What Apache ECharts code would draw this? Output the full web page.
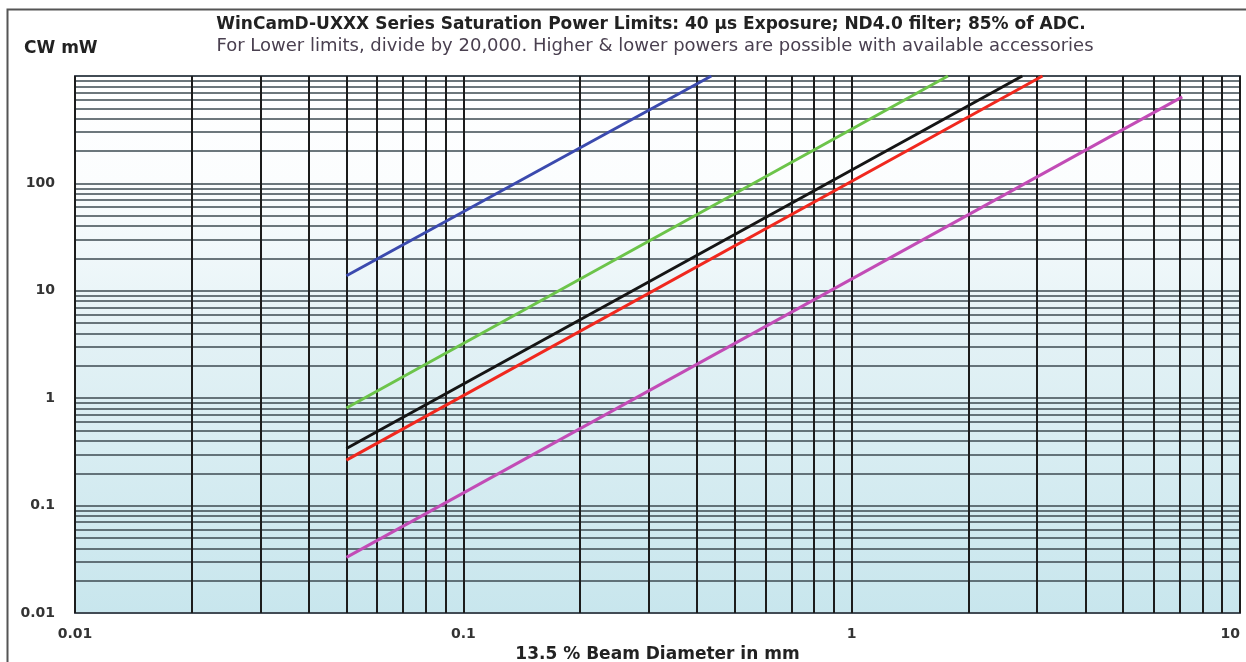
<!DOCTYPE html>
<html>
<head>
<meta charset="utf-8">
<script src="https://cdn.jsdelivr.net/npm/echarts@6/dist/echarts.min.js"></script>
<style>
html,body{margin:0;padding:0;background:#fff;}
#c{width:1246px;height:662px;}
</style>
</head>
<body>
<div id="c"></div>
<script>
// Data (beam diameter mm, CW mW)
const seriesNames = ['Blue', 'Green', 'Black', 'Red', 'Magenta'];
const blueLine = [[0.05, 13.8], [0.435, 1000]];
const greenLine = [[0.05, 0.81], [1.77, 1000]];
const blackLine = [[0.05, 0.34], [2.75, 1000]];
const redLine = [[0.05, 0.265], [3.1, 1000]];
const magentaLine = [[0.05, 0.033], [7.1, 640]];
const seriesColors = ['#3b4aae', '#6cc44a', '#151515', '#f0281e', '#c24cb6'];

// Axis ticks / grid
const xDecades = [0.01, 0.1, 1];
const yDecades = [0.01, 0.1, 1, 10, 100];
const multipliers = [1, 2, 3, 4, 5, 6, 7, 8, 9];
const xLabels = ['0.01', '0.1', '1', '10'];
const yLabels = ['0.01', '0.1', '1', '10', '100'];

const xGrid = [];
xDecades.forEach(d => multipliers.forEach(m => xGrid.push(+(d * m).toPrecision(3))));
xGrid.push(10);
const yGrid = [];
yDecades.forEach(d => multipliers.forEach(m => yGrid.push(+(d * m).toPrecision(3))));
yGrid.push(1000);

const FONT = 'DejaVu Sans, Verdana, sans-serif';
const chart = echarts.init(document.getElementById('c'), null, {renderer: 'canvas'});
const lineData = [blueLine, greenLine, blackLine, redLine, magentaLine];

const option = {
  animation: false,
  title: [
    {
      text: 'WinCamD-UXXX Series Saturation Power Limits: 40 \u00b5s Exposure; ND4.0 filter; 85% of ADC.',
      left: 646, top: 11, textAlign: 'center',
      textStyle: {fontFamily: FONT, fontSize: 17, fontWeight: 'bold', color: '#222'}
    },
    {
      text: 'For Lower limits, divide by 20,000. Higher & lower powers are possible with available accessories',
      left: 650, top: 32, textAlign: 'center',
      textStyle: {fontFamily: FONT, fontSize: 18, fontWeight: 'normal', color: '#4a4050'}
    },
    {
      text: 'CW mW', left: 19, top: 35,
      textStyle: {fontFamily: FONT, fontSize: 17, fontWeight: 'bold', color: '#222'}
    }
  ],
  graphic: [{
    type: 'rect', left: 5, top: 7, silent: true,
    shape: {x: 0, y: 0, width: 1260, height: 680},
    style: {fill: 'none', stroke: '#555', lineWidth: 2}
  }],
  grid: {
    left: 75, right: 6, top: 76, bottom: 49,
    outerBoundsMode: 'none',
    containLabel: false,
    show: true,
    borderColor: '#556', borderWidth: 2,
    backgroundColor: new echarts.graphic.LinearGradient(0, 0, 0, 1, [
      {offset: 0, color: '#ffffff'},
      {offset: 0.2, color: '#fbfdfe'},
      {offset: 0.5, color: '#e2f1f5'},
      {offset: 1, color: '#c8e6ed'}
    ])
  },
  xAxis: {
    type: 'log', logBase: 10, min: 0.01, max: 10,
    name: '13.5 % Beam Diameter in mm',
    nameLocation: 'middle', nameGap: 30,
    nameTextStyle: {fontFamily: FONT, fontSize: 17, fontWeight: 'bold', color: '#222'},
    axisLine: {show: false}, axisTick: {show: false}, splitLine: {show: false},
    axisLabel: {
      margin: 14, alignMaxLabel: 'right',
      fontFamily: FONT, fontSize: 14, fontWeight: 'bold', color: '#333',
      formatter: v => { const i = [0.01, 0.1, 1, 10].findIndex(t => Math.abs(t - v) / t < 1e-6); return i >= 0 ? xLabels[i] : ''; }
    }
  },
  yAxis: {
    type: 'log', logBase: 10, min: 0.01, max: 1000,
    axisLine: {show: false}, axisTick: {show: false}, splitLine: {show: false},
    axisLabel: {
      margin: 20,
      fontFamily: FONT, fontSize: 14, fontWeight: 'bold', color: '#333',
      formatter: v => { const i = [0.01, 0.1, 1, 10, 100].findIndex(t => Math.abs(t - v) / t < 1e-6); return i >= 0 ? yLabels[i] : ''; }
    }
  },
  series: [
    {
      type: 'line', data: [], silent: true, z: 1,
      markLine: {
        silent: true, symbol: 'none', label: {show: false}, animation: false,
        lineStyle: {color: '#3c4a50', width: 1.5, type: 'solid'},
        data: yGrid.map(v => ({yAxis: v}))
      }
    },
    {
      type: 'line', data: [], silent: true, z: 2,
      markLine: {
        silent: true, symbol: 'none', label: {show: false}, animation: false,
        lineStyle: {color: '#1c1c1c', width: 2, type: 'solid'},
        data: xGrid.map(v => ({xAxis: v}))
      }
    }
  ].concat(lineData.map((d, i) => ({
    name: seriesNames[i], type: 'line', data: d, z: 5,
    symbol: 'none', lineStyle: {color: seriesColors[i], width: 3},
    itemStyle: {color: seriesColors[i]}
  })))
};
chart.setOption(option);
</script>
</body>
</html>
